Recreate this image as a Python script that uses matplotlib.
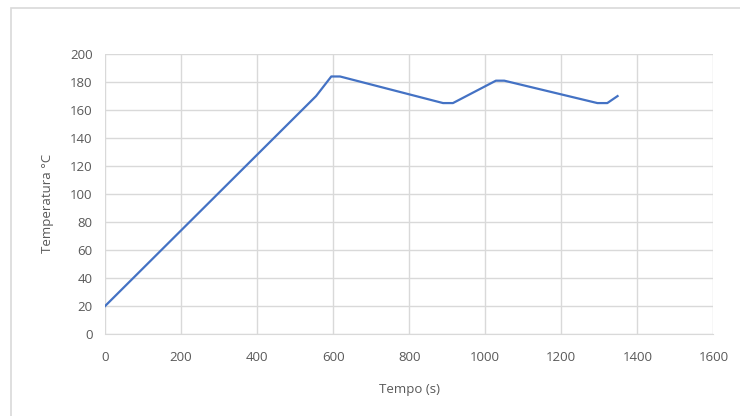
import matplotlib
matplotlib.use('Agg')
import matplotlib.pyplot as plt
from matplotlib.patches import Rectangle

tempo = [0, 555, 595, 618, 889, 915, 1028, 1050, 1295, 1321, 1348]
temperatura = [20, 170, 184, 184, 165, 165, 181, 181, 165, 165, 170]

x_ticks = [0, 200, 400, 600, 800, 1000, 1200, 1400, 1600]
y_ticks = [0, 20, 40, 60, 80, 100, 120, 140, 160, 180, 200]

plt.rcParams['font.family'] = ['Open Sans', 'DejaVu Sans']

fig = plt.figure(figsize=(7.4, 4.16), dpi=100)
ax = fig.add_axes([0.142, 0.197, 0.822, 0.673])

# cornice del grafico (solo lati sinistro e superiore visibili)
fig.patches.append(Rectangle((11 / 740, -0.1), 1.2, 1 - 8 / 416 + 0.1,
                             transform=fig.transFigure, fill=False,
                             edgecolor='#d9d9d9', linewidth=1.2))

ax.plot(tempo, temperatura, color='#4472c4', linewidth=1.6, solid_joinstyle='round')

ax.set_xlim(0, 1600)
ax.set_ylim(0, 200)
ax.set_xticks(x_ticks)
ax.set_yticks(y_ticks)
ax.grid(True, color='#d9d9d9', linewidth=1)
ax.set_axisbelow(True)
for s in ['top', 'right', 'left']:
    ax.spines[s].set_visible(False)
ax.spines['bottom'].set_color('#d9d9d9')
ax.tick_params(length=0, labelsize=9.5, labelcolor='#595959')
ax.tick_params(axis='x', pad=12)
ax.tick_params(axis='y', pad=9)

ax.set_xlabel('Tempo (s)', fontsize=9.5, color='#595959', labelpad=14)
ax.set_ylabel('Temperatura °C', fontsize=9.5, color='#595959')
ax.yaxis.set_label_coords(-0.084, 0.465)

fig.savefig('out.png', dpi=100)
